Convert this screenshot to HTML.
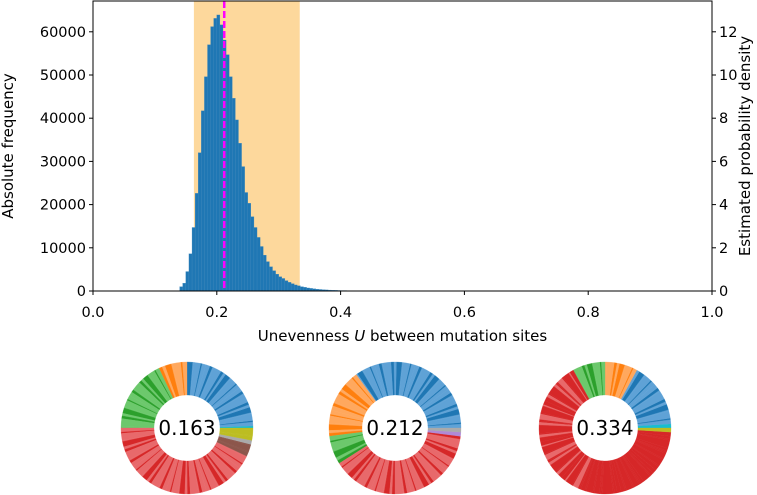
<!DOCTYPE html>
<html><head><meta charset="utf-8"><style>
html,body{margin:0;padding:0;background:#fff;}
svg{display:block;font-family:"DejaVu Sans","Liberation Sans",sans-serif;}
</style></head><body>
<svg id="chart" width="757" height="495" viewBox="0 0 757 495" xmlns="http://www.w3.org/2000/svg">
<g id="hist"></g>
<g id="donuts"></g>
</svg>
<script>
// ---- histogram data ----
const binStarts = [0.140,0.145,0.150,0.155,0.160,0.165,0.170,0.175,0.180,0.185,0.190,0.195,0.200,0.205,0.210,0.215,0.220,0.225,0.230,0.235,0.240,0.245,0.250,0.255,0.260,0.265,0.270,0.275,0.280,0.285,0.290,0.295,0.300,0.305,0.310,0.315,0.320,0.325,0.330,0.335,0.340,0.345,0.350,0.355,0.360,0.365,0.370,0.375,0.380,0.385,0.390,0.395,0.400,0.410,0.420,0.430,0.440,0.450,0.460,0.470,0.480,0.490];
const binCounts = [1000,1800,4500,8600,14700,22600,32000,41700,49600,57000,61200,63100,63900,61600,58100,54700,49600,44600,39600,34200,28800,22800,20300,17200,14700,12400,10300,8300,6800,5600,4700,3900,3300,2900,2400,2000,1700,1400,1200,1000,850,700,600,500,420,350,300,250,210,180,150,120,100,80,60,45,35,25,18,12,8,5];
const binWidth = 0.005;
const xTicks = [0.0,0.2,0.4,0.6,0.8,1.0];
const yTicks = [0,10000,20000,30000,40000,50000,60000];
const densityTicks = [0,2,4,6,8,10,12];
const shadeRange = [0.163,0.334];
const medianValue = 0.212;
// ---- donut data: [fraction, colour-group], counter-clockwise from 3 o'clock ----
const donutLabels = ["0.163","0.212","0.334"];
const donut1 = [[0.005,"cyan"],[0.245,"blue"],[0.07,"orange"],[0.18,"green"],[0.43,"red"],[0.03,"brown"],[0.01,"gray"],[0.03,"olive"]];
const donut2 = [[0.35,"blue"],[0.17,"orange"],[0.07,"green"],[0.39,"red"],[0.01,"purple"],[0.01,"gray"]];
const donut3 = [[0.01,"cyan"],[0.16,"blue"],[0.08,"orange"],[0.08,"green"],[0.36,"redlight"],[0.30,"reddark"],[0.01,"olive"]];
const donutSets = [donut1,donut2,donut3];

const NS="http://www.w3.org/2000/svg";
function mk(tag,attrs,parent){const e=document.createElementNS(NS,tag);for(const k in attrs)e.setAttribute(k,attrs[k]);parent.appendChild(e);return e;}
const L=93,R=712,T=1,B=291;
const yMax=(B-T)/43.2*10000;
const sx=v=>L+v*(R-L);
const sy=v=>B-v/yMax*(B-T);
const sd=d=>sy(d*5000);
const g=document.getElementById('hist');

let sh=mk('rect',{x:sx(shadeRange[0]),y:T,width:sx(shadeRange[1])-sx(shadeRange[0]),height:B-T,fill:'#fdd89c'},g);


binStarts.forEach((b,i)=>{
  const w=(i<binStarts.length-1?binStarts[i+1]-b:binWidth);
  const r=mk('rect',{x:sx(b),y:sy(binCounts[i]),width:sx(b+w)-sx(b),height:B-sy(binCounts[i]),fill:'#1f77b4',stroke:'#3d88be','stroke-width':0.3},g);
  
  
});
let ml=mk('line',{x1:sx(medianValue),x2:sx(medianValue),y1:T,y2:B,stroke:'#ff00ff','stroke-width':2.5,'stroke-dasharray':'7,3'},g);


let fr=mk('rect',{x:L,y:T,width:R-L,height:B-T,fill:'none',stroke:'#000','stroke-width':1},g);


xTicks.forEach(t=>{
  mk('line',{x1:sx(t),x2:sx(t),y1:B,y2:B+4,stroke:'#000'},g);
  const tx=mk('text',{x:sx(t),y:B+26,'font-size':14.5,'text-anchor':'middle'},g);tx.textContent=t.toFixed(1);
  
  
});
yTicks.forEach(t=>{
  mk('line',{x1:L-4,x2:L,y1:sy(t),y2:sy(t),stroke:'#000'},g);
  const tx=mk('text',{x:L-7,y:sy(t)+5,'font-size':14.5,'text-anchor':'end'},g);tx.textContent=t;
  
  
});
densityTicks.forEach(t=>{
  mk('line',{x1:R,x2:R+4,y1:sd(t),y2:sd(t),stroke:'#000'},g);
  const tx=mk('text',{x:R+7,y:sd(t)+5,'font-size':14.5,'text-anchor':'start'},g);tx.textContent=t;
  
  
});
let xl=mk('text',{x:(L+R)/2,y:341,'font-size':15,'text-anchor':'middle'},g);
xl.innerHTML='Unevenness <tspan font-style="italic">U</tspan> between mutation sites';


let yl=mk('text',{x:0,y:0,'font-size':15,'text-anchor':'middle',transform:`translate(13,${(T+B)/2}) rotate(-90)`},g);
yl.textContent='Absolute frequency';


let y2=mk('text',{x:0,y:0,'font-size':15,'text-anchor':'middle',transform:`translate(750,${(T+B)/2}) rotate(-90)`},g);
y2.textContent='Estimated probability density';



// ---- donuts ----
const palette={blue:['#1f77b4','#5fa2d6'],orange:['#ff7f0e','#ffa85e'],green:['#2ca02c','#6cc86c'],red:['#d62728','#e8696b'],redlight:['#e8696b','#d62728'],reddark:['#d62728','#d62728'],cyan:['#17becf','#17becf'],brown:['#8c564b','#8c564b'],gray:['#999999','#aaaaaa'],olive:['#bcbd22','#bcbd22'],purple:['#9467bd','#b08ad6']};
const stripePattern=[3,1,5,1,4,1,1,2,6,1,2,3];
const centers=[[187,428],[395,428],[605,428]];
const Ro=66,Ri=33;
const dg=document.getElementById('donuts');
function arc(cx,cy,a0,a1,col,parent){
  const p=(a,r)=>[cx+r*Math.cos(a),cy-r*Math.sin(a)];
  const large=(a1-a0)>Math.PI?1:0;
  const [x0,y0]=p(a0,Ro),[x1,y1]=p(a1,Ro),[x2,y2]=p(a1,Ri),[x3,y3]=p(a0,Ri);
  return mk('path',{d:`M${x0},${y0}A${Ro},${Ro} 0 ${large} 0 ${x1},${y1}L${x2},${y2}A${Ri},${Ri} 0 ${large} 1 ${x3},${y3}Z`,fill:col,stroke:col,'stroke-width':0.3},parent);
}
donutSets.forEach((set,di)=>{
  const [cx,cy]=centers[di];
  const grp=mk('g',{},dg);
  
  
  let a=0;
  set.forEach(([f,c])=>{
    const span=f*2*Math.PI;
    const cols=palette[c];
    const n=Math.max(1,Math.round(f*120));
    let tot=0;for(let k=0;k<n;k++)tot+=stripePattern[k%stripePattern.length];
    let s=a;
    for(let k=0;k<n;k++){
      const w=span*stripePattern[k%stripePattern.length]/tot;
      const seg=arc(cx,cy,s,s+w,cols[(k%3===1)?0:1],grp);
      
      
      s+=w;
    }
    a+=span;
  });
  const t=mk('text',{x:cx,y:cy+7,'font-size':20,'text-anchor':'middle'},grp);
  t.textContent=donutLabels[di];
  
  
});
</script>
</body></html>
